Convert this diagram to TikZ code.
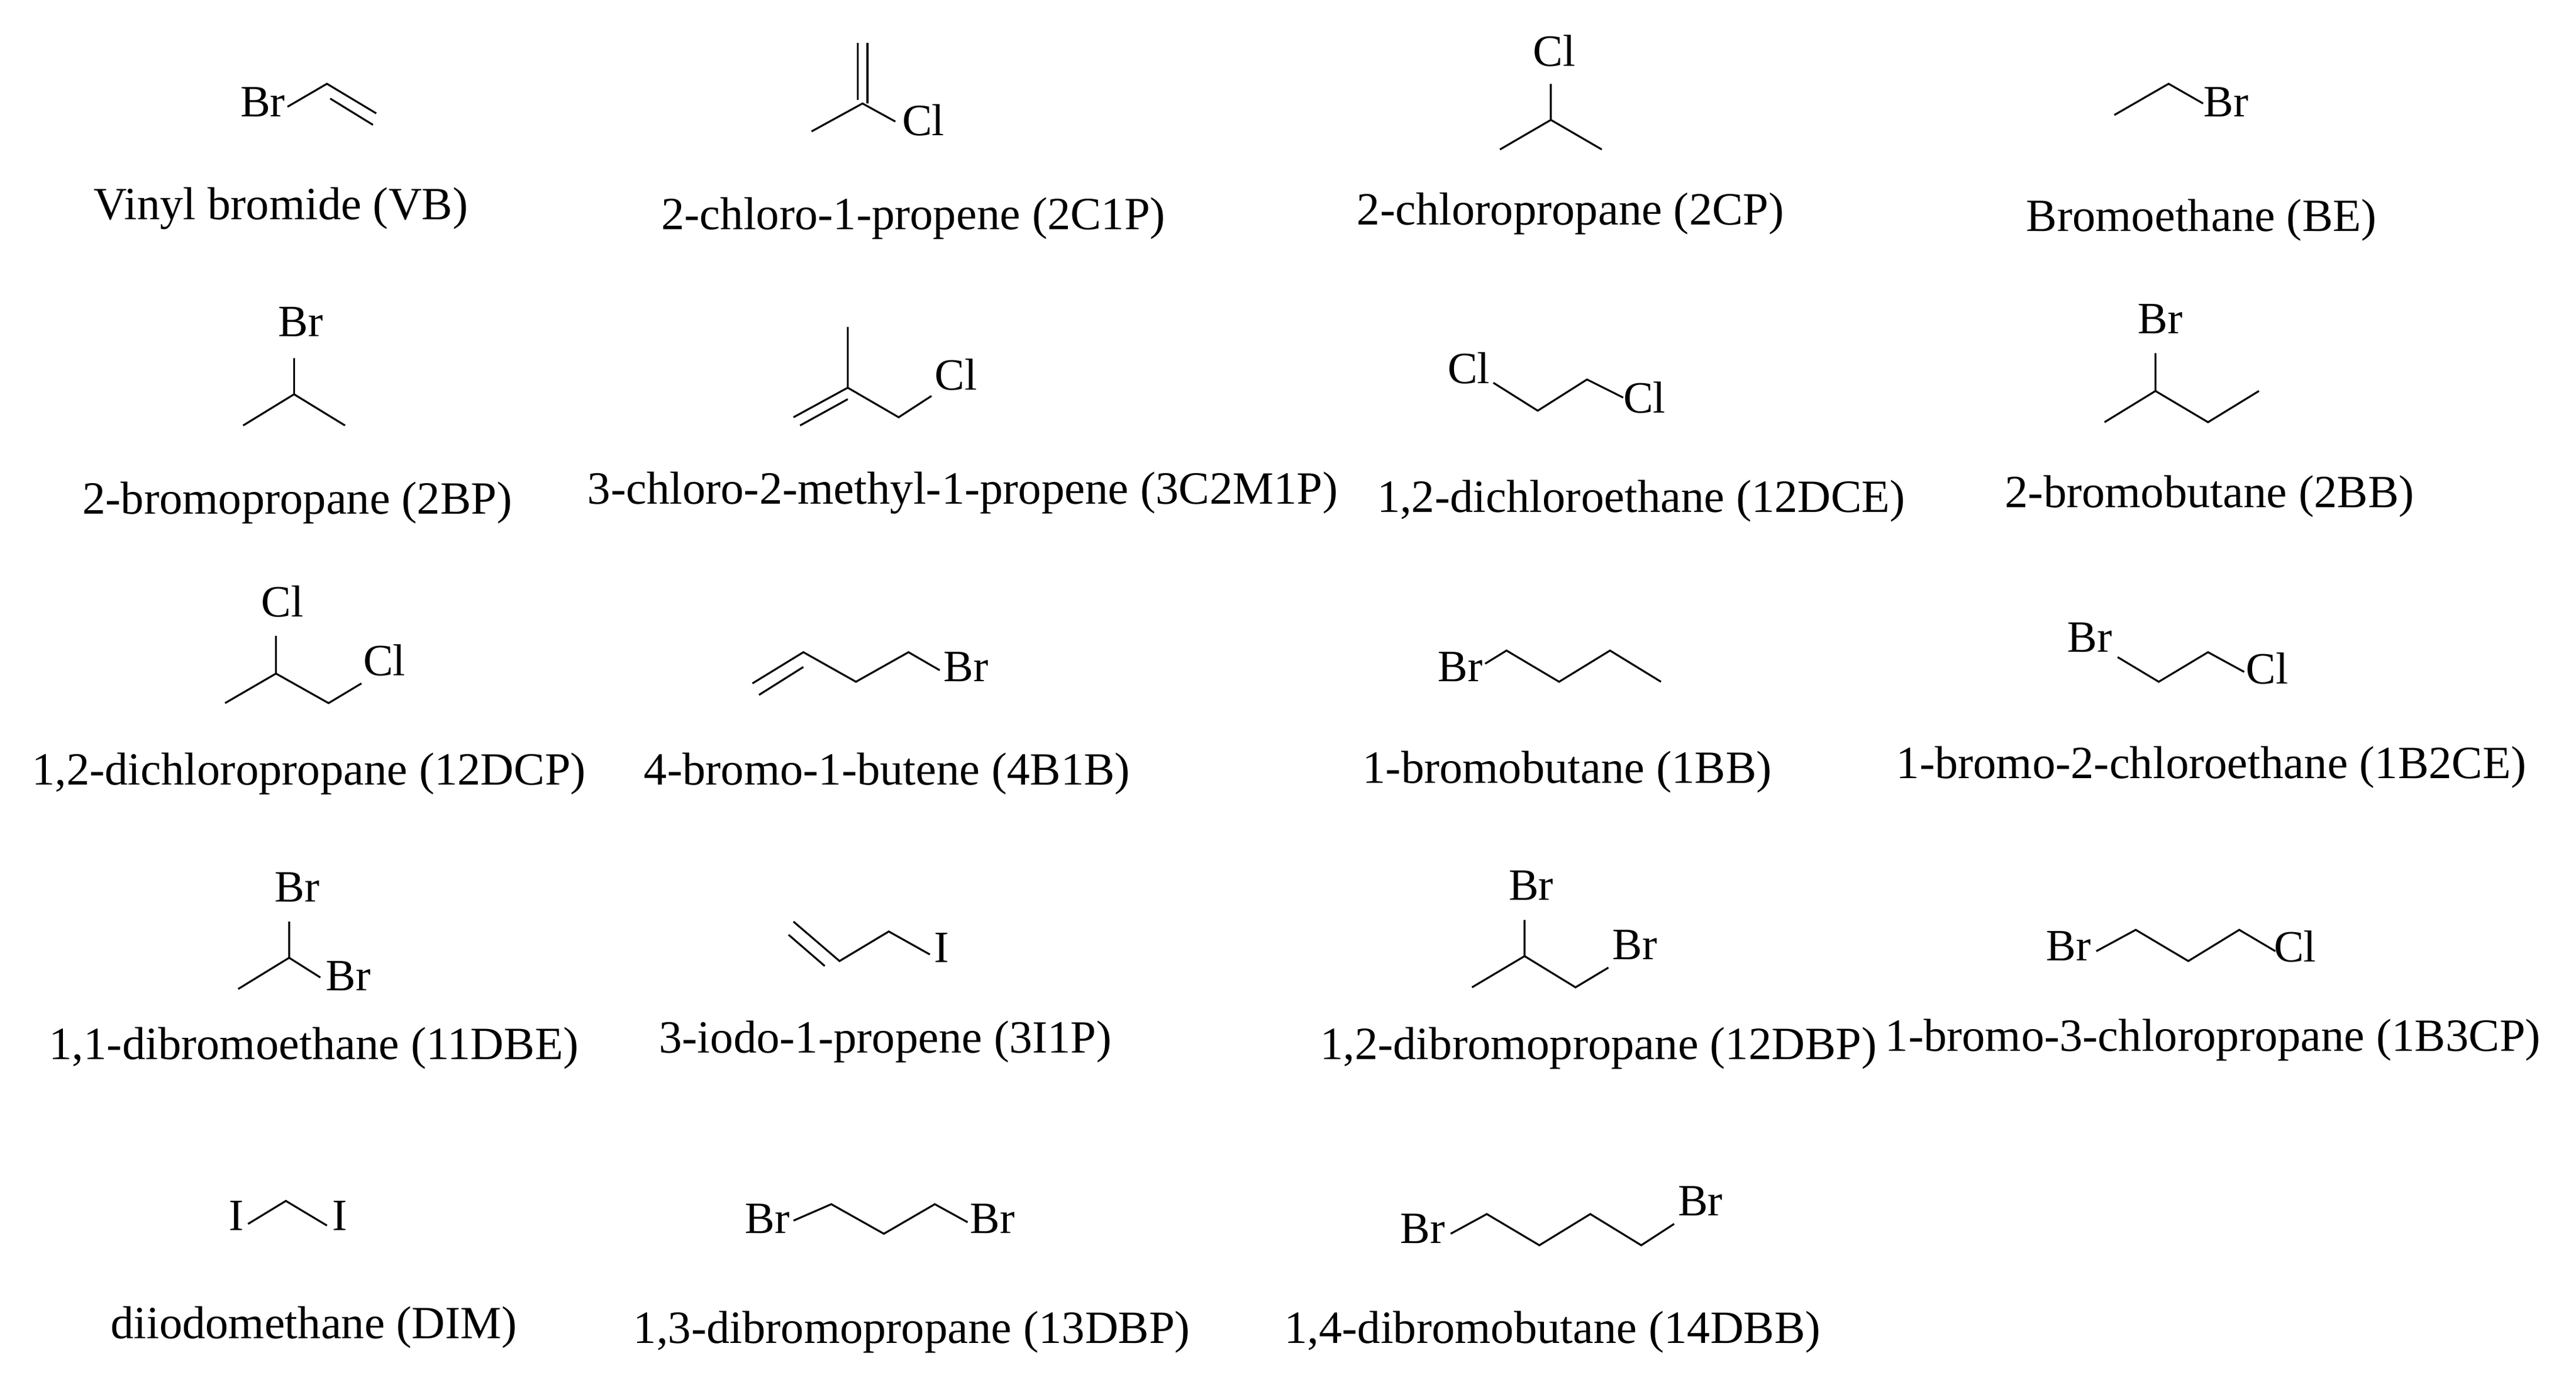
\documentclass[tikz,border=0pt]{standalone}
\usepackage{fontspec}
\setmainfont{Liberation Serif}
\begin{document}
\begin{tikzpicture}[x=0.02cm,y=-0.02cm,
  bond/.style={line width=0.65pt,line join=miter},
  atom/.style={inner sep=0pt,font=\fontsize{15.5}{18}\selectfont},
  lbl/.style={inner sep=0pt,font=\fontsize{16}{19}\selectfont}]
\useasboundingbox (0,0) rectangle (1568,844);
% VB
\node[atom] (vbBr) at (160,62) {Br};
\draw[bond] (175,65)--(199,51)--(229,69);
\draw[bond] (201,60)--(227,76);
\node[lbl] (vb) at (171,127) {Vinyl bromide (VB)};
% 2C1P
\draw[bond] (522,26)--(522,61) (528,26)--(528,63);
\draw[bond] (494,80)--(525,63)--(545,74);
\node[atom] (c1pCl) at (562,73) {Cl};
\node[lbl] (c1p) at (556,133) {2-chloro-1-propene (2C1P)};
% 2CP
\node[atom] (cpCl) at (946,31) {Cl};
\draw[bond] (944,51)--(944,73) (913,91)--(944,73)--(975,91);
\node[lbl] (cp) at (956,130) {2-chloropropane (2CP)};
% BE
\draw[bond] (1287,70)--(1320,51)--(1341,63);
\node[atom] (beBr) at (1355,62) {Br};
\node[lbl] (be) at (1340,134) {Bromoethane (BE)};
% 2BP
\node[atom] (bpBr) at (183,196) {Br};
\draw[bond] (179,218)--(179,240) (148,259)--(179,240)--(210,259);
\node[lbl] (bp) at (181,306) {2-bromopropane (2BP)};
% 3C2M1P
\draw[bond] (516,199)--(516,236)--(483,254) (516,236)--(547,254)--(567,241);
\draw[bond] (516,243)--(487,259);
\node[atom] (mpCl) at (582,228) {Cl};
\node[lbl] (mp) at (586,300) {3-chloro-2-methyl-1-propene (3C2M1P)};
% 12DCE
\node[atom] (dceCl1) at (894,224) {Cl};
\draw[bond] (909,233)--(936,250)--(966,231)--(988,242);
\node[atom] (dceCl2) at (1001,242) {Cl};
\node[lbl] (dce) at (999,305) {1,2-dichloroethane (12DCE)};
% 2BB
\node[atom] (bbBr) at (1315,194) {Br};
\draw[bond] (1312,215)--(1312,238) (1281,257)--(1312,238)--(1344,257)--(1375,238);
\node[lbl] (bb) at (1345,302) {2-bromobutane (2BB)};
% 12DCP
\node[atom] (dcpCl1) at (172,366) {Cl};
\draw[bond] (168,387)--(168,410) (137,428)--(168,410)--(200,428)--(220,416);
\node[atom] (dcpCl2) at (234,402) {Cl};
\node[lbl] (dcp) at (188,471) {1,2-dichloropropane (12DCP)};
% 4B1B
\draw[bond] (458,416)--(489,397)--(521,415)--(553,397)--(572,408);
\draw[bond] (462,423)--(489,406);
\node[atom] (bbeBr) at (588,406) {Br};
\node[lbl] (bbe) at (540,471) {4-bromo-1-butene (4B1B)};
% 1BB
\node[atom] (obbBr) at (889,406) {Br};
\draw[bond] (904,404)--(917,396)--(949,415)--(980,396)--(1011,415);
\node[lbl] (obb) at (954,470) {1-bromobutane (1BB)};
% 1B2CE
\node[atom] (bceBr) at (1272,388) {Br};
\draw[bond] (1289,400)--(1314,415)--(1344,397)--(1366,409);
\node[atom] (bceCl) at (1380,407) {Cl};
\node[lbl] (bce) at (1346,467) {1-bromo-2-chloroethane (1B2CE)};
% 11DBE
\node[atom] (dbeBr1) at (181,540) {Br};
\draw[bond] (176,561)--(176,583) (145,602)--(176,583)--(195,595);
\node[atom] (dbeBr2) at (212,594) {Br};
\node[lbl] (dbe) at (191,638) {1,1-dibromoethane (11DBE)};
% 3I1P
\draw[bond] (483,561)--(511,585)--(541,567)--(566,581);
\draw[bond] (480,569)--(502,588);
\node[atom] (ipI) at (573,577) {I};
\node[lbl] (ip) at (539,634) {3-iodo-1-propene (3I1P)};
% 12DBP
\node[atom] (dbpBr1) at (932,539) {Br};
\draw[bond] (928,560)--(928,582) (896,601)--(928,582)--(959,601)--(979,589);
\node[atom] (dbpBr2) at (995,575) {Br};
\node[lbl] (dbp) at (973,638) {1,2-dibromopropane (12DBP)};
% 1B3CP
\node[atom] (bcpBr) at (1259,576) {Br};
\draw[bond] (1276,579)--(1300,566)--(1332,585)--(1363,566)--(1385,579);
\node[atom] (bcpCl) at (1397,576) {Cl};
\node[lbl] (bcp) at (1347,633) {1-bromo-3-chloropropane (1B3CP)};
% DIM
\node[atom] (dimI1) at (144,740) {I};
\draw[bond] (151,745)--(174,731)--(199,746);
\node[atom] (dimI2) at (207,740) {I};
\node[lbl] (dim) at (191,808) {diiodomethane (DIM)};
% 13DBP
\node[atom] (tdbBr1) at (467,742) {Br};
\draw[bond] (483,743)--(506,733)--(538,751)--(569,733)--(589,744);
\node[atom] (tdbBr2) at (604,742) {Br};
\node[lbl] (tdb) at (555,811) {1,3-dibromopropane (13DBP)};
% 14DBB
\node[atom] (fdbBr1) at (866,748) {Br};
\draw[bond] (883,751)--(905,739)--(937,758)--(968,739)--(999,758)--(1019,745);
\node[atom] (fdbBr2) at (1035,731) {Br};
\node[lbl] (fdb) at (945,811) {1,4-dibromobutane (14DBB)};
\end{tikzpicture}
\end{document}
